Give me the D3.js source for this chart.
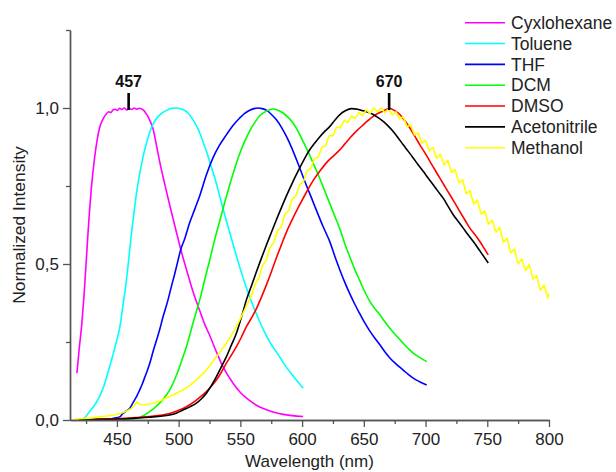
<!DOCTYPE html>
<html><head><meta charset="utf-8">
<script src="https://cdn.jsdelivr.net/npm/d3@7"></script>
<style>
body{margin:0;background:#fff}
svg{display:block}
text{font-family:"Liberation Sans",Arial,sans-serif}
</style>
</head><body>
<svg id="chart" width="616" height="472"></svg>
<script>
// ---- data (wavelength nm, normalized intensity) ----
const seriesNames = ["Cyxlohexane","Toluene","THF","DCM","DMSO","Acetonitrile","Methanol"];
const seriesColors = ["#ff00ff","#00ffff","#0000ff","#00ff00","#ff0000","#000000","#ffff00"];

const cyclohexane = [[417.6,0.150],[419.5,0.230],[421.5,0.305],[423.2,0.390],[425,0.500],[426.5,0.594],[428,0.680],[429.3,0.743],[430.6,0.795],[431.9,0.840],[434,0.898],[435.9,0.936],[438.5,0.963],[441.4,0.981],[443.5,0.988],[445,0.985],[446.7,0.993],[448.5,0.996],[450.5,0.992],[452.2,0.999],[454,0.995],[456,1.0],[458,0.994],[460,0.999],[462,0.995],[464,1.0],[466,0.996],[468,0.999],[470,0.997],[471.5,0.993],[473.2,0.985],[475.1,0.973],[477,0.957],[479.1,0.936],[481.8,0.885],[484.6,0.829],[488.5,0.760],[492.7,0.690],[497.5,0.613],[502.2,0.540],[507,0.473],[511.6,0.412],[517.1,0.350],[521,0.308],[525.2,0.271],[530.6,0.218],[536,0.170],[544.1,0.118],[550,0.088],[557.6,0.062],[564,0.045],[571.1,0.033],[578,0.024],[584.6,0.018],[592,0.014],[600.8,0.011]];

const toluene = [[419.7,0.002],[423.8,0.007],[427.8,0.027],[432,0.048],[435.9,0.075],[439.5,0.110],[442.6,0.150],[445.5,0.190],[448.1,0.228],[450.3,0.262],[452.2,0.294],[455,0.370],[457.6,0.444],[459.7,0.520],[461.7,0.594],[463.7,0.660],[465.7,0.722],[467.8,0.775],[469.8,0.818],[472.5,0.866],[475.1,0.904],[477.8,0.935],[480.6,0.958],[484,0.975],[487.3,0.986],[491,0.994],[494.5,0.999],[498.2,1.0],[502,0.997],[505,0.992],[507.6,0.984],[511,0.966],[513.5,0.950],[515.7,0.933],[519,0.900],[522.5,0.861],[525.8,0.820],[529.2,0.777],[533.3,0.717],[537.3,0.658],[541.4,0.600],[545.4,0.545],[549.5,0.490],[553.5,0.440],[557.6,0.394],[561.6,0.353],[565.7,0.315],[569.8,0.280],[573.8,0.250],[577.9,0.225],[582.7,0.197],[587.6,0.167],[592,0.145],[596,0.125],[600.8,0.102]];

const thf = [[427.8,0.0],[436,0.001],[444.1,0.003],[448,0.006],[452.2,0.010],[454.9,0.021],[457.6,0.029],[460.3,0.037],[462.3,0.050],[464.3,0.064],[466.4,0.079],[468.4,0.096],[470.4,0.114],[472.4,0.135],[474.5,0.157],[476.5,0.180],[479.7,0.225],[482.2,0.257],[484.6,0.289],[487.3,0.330],[491.4,0.385],[494,0.426],[496.8,0.468],[499.2,0.507],[501.6,0.545],[505,0.582],[508.9,0.632],[513,0.675],[517.1,0.719],[522.5,0.786],[527.8,0.840],[533,0.880],[538.7,0.914],[544,0.944],[549.5,0.968],[553.5,0.983],[557.6,0.993],[561,0.998],[564.3,1.0],[567.7,0.998],[571.1,0.993],[575,0.980],[579.2,0.962],[583.3,0.938],[587.4,0.908],[591.5,0.873],[595.5,0.834],[599.5,0.793],[603.6,0.751],[607.7,0.711],[611.7,0.671],[617,0.620],[622.5,0.571],[626.5,0.525],[630.6,0.481],[634.6,0.441],[638.7,0.404],[642.7,0.371],[646.8,0.340],[650.8,0.311],[654.9,0.285],[659,0.262],[663.0,0.241],[667,0.219],[671.1,0.199],[676.5,0.178],[681.9,0.160],[686,0.146],[690.0,0.134],[695.5,0.122],[700.9,0.112]];

const dcm = [[446.8,0.0],[456,0.002],[465.7,0.005],[471,0.013],[476.5,0.027],[480.5,0.039],[484.6,0.054],[488.7,0.073],[492.7,0.096],[496.8,0.130],[500.8,0.171],[503.5,0.202],[506.3,0.235],[509,0.272],[511.6,0.310],[514.4,0.348],[517.1,0.385],[521,0.448],[525.2,0.513],[529.2,0.578],[533.3,0.638],[537.3,0.697],[541.4,0.754],[545.4,0.806],[549.5,0.854],[553.5,0.893],[557.6,0.927],[561.6,0.953],[565.7,0.975],[571,0.990],[576.5,0.997],[580.5,0.993],[584.6,0.984],[588.7,0.970],[592.7,0.952],[596.8,0.925],[600.8,0.893],[604.9,0.860],[608.9,0.824],[613,0.787],[617.0,0.748],[621,0.708],[625.1,0.667],[630.6,0.612],[634.6,0.565],[638.7,0.522],[642.7,0.482],[646.8,0.446],[650.8,0.411],[654.9,0.380],[659,0.357],[663.0,0.337],[667,0.315],[671.1,0.294],[676.5,0.269],[681.9,0.246],[686,0.229],[690.0,0.214],[695.5,0.200],[700.9,0.187]];

const dmso = [[419.4,0.0],[435,0.003],[452.2,0.005],[465,0.008],[476.5,0.011],[485,0.015],[492.7,0.021],[498,0.028],[503.5,0.037],[509,0.049],[514.4,0.064],[518.5,0.077],[522.5,0.091],[526.5,0.108],[530.6,0.128],[534.6,0.153],[538.7,0.182],[542.7,0.208],[546.8,0.235],[550.9,0.266],[554.9,0.299],[559,0.327],[563.0,0.357],[567,0.393],[571.1,0.433],[575.2,0.476],[579.2,0.520],[583.3,0.562],[587.4,0.603],[592.7,0.648],[598.1,0.690],[603.5,0.730],[608.9,0.767],[614.4,0.798],[619.8,0.825],[625,0.845],[630.6,0.866],[634.6,0.885],[638.7,0.904],[644,0.926],[649.5,0.946],[653.5,0.960],[657.6,0.973],[661.6,0.983],[665.7,0.990],[668.5,0.996],[670.5,0.999],[674.9,0.992],[679.2,0.979],[683.3,0.959],[687.3,0.936],[691.4,0.909],[695.4,0.882],[699.5,0.856],[703.5,0.829],[707.6,0.802],[711.6,0.775],[715.7,0.748],[719.7,0.722],[723.8,0.695],[727.8,0.668],[731.9,0.641],[735.9,0.615],[740,0.594],[744.0,0.572],[747.5,0.550],[750.8,0.529]];

const acetonitrile = [[419.4,0.0],[435,0.002],[452.2,0.003],[465,0.006],[476.5,0.009],[485,0.012],[492.7,0.016],[498,0.022],[503.5,0.032],[509,0.042],[514.4,0.054],[518.5,0.068],[522.5,0.086],[526.5,0.110],[530.6,0.139],[534.6,0.170],[538.7,0.203],[542.7,0.240],[546.8,0.278],[550.9,0.330],[554.9,0.385],[559,0.430],[563.0,0.475],[567,0.518],[571.1,0.561],[575.2,0.602],[579.2,0.642],[583.3,0.681],[587.4,0.719],[592.7,0.765],[598.1,0.808],[602,0.838],[606.2,0.866],[610.3,0.888],[614.4,0.908],[618.5,0.926],[622.5,0.941],[626.5,0.961],[630.6,0.979],[635,0.991],[640.0,0.998],[645,0.996],[649.5,0.991],[653.5,0.986],[657.6,0.979],[661.6,0.969],[665.7,0.957],[669.8,0.942],[673.8,0.925],[677.9,0.904],[681.9,0.882],[686,0.861],[690.0,0.840],[694,0.818],[698.1,0.797],[702.2,0.775],[706.2,0.754],[710.3,0.732],[714.3,0.711],[718.4,0.684],[722.4,0.658],[726.5,0.636],[730.5,0.615],[734.6,0.593],[738.7,0.572],[744.7,0.538],[750.8,0.503]];

const methanol = [[415.6,0.003],[427.8,0.006],[438.6,0.011],[448.1,0.016],[452.5,0.021],[456.2,0.026],[459,0.031],[461.7,0.037],[464.3,0.048],[466,0.058],[467.2,0.053],[468.4,0.051],[470.5,0.049],[472.4,0.048],[474.5,0.050],[476.5,0.051],[480.5,0.055],[484.6,0.061],[488.7,0.068],[492.7,0.075],[498,0.085],[503.5,0.096],[509,0.111],[514.4,0.128],[518.5,0.144],[522.5,0.160],[526.5,0.181],[530.6,0.203],[534.6,0.224],[538.7,0.246],[542.7,0.272],[546.8,0.299],[550.9,0.332],[554.5,0.362],[559,0.399],[562,0.436],[565,0.455],[568,0.496],[571,0.512],[574,0.553],[577,0.568],[580,0.606],[583,0.618],[586,0.659],[589,0.671],[592,0.709],[595,0.718],[598,0.754],[601,0.763],[604,0.799],[607,0.806],[610,0.838],[613,0.842],[616,0.874],[619,0.879],[622,0.912],[625,0.911],[628,0.939],[631,0.937],[634,0.960],[637,0.954],[640,0.975],[643,0.966],[646,0.985],[649,0.976],[652,0.994],[655,0.983],[658,1.0],[661,0.988],[664,1.0],[667,0.985],[670,0.997],[673,0.978],[676,0.988],[679,0.965],[682,0.972],[685,0.940],[688,0.946],[691,0.914],[694,0.920],[697,0.888],[700,0.896],[703,0.862],[706,0.874],[709,0.838],[712,0.852],[715,0.818],[718,0.832],[721,0.794],[724,0.802],[727,0.760],[730,0.770],[733,0.725],[736,0.735],[739,0.692],[742,0.705],[745,0.660],[748,0.670],[751,0.628],[754,0.640],[757,0.602],[760,0.618],[763,0.570],[766,0.582],[769,0.535],[772,0.548],[775,0.500],[778,0.516],[781,0.478],[784,0.498],[787,0.452],[790,0.463],[793,0.416],[796,0.432],[799,0.392],[800,0.405]];

const xMajorTicks = [450,500,550,600,650,700,750,800];
const xMinorTicks = [425,475,525,575,625,675,725,775];
const yMajorTicks = [0,0.5,1.0];
const yTickLabels = ["0,0","0,5","1,0"];
const yMinorTicks = [0.25,0.75,1.25];
const peakLabels = ["457","670"];
const peakPositions = [459.5,670.5];
const xTitle = "Wavelength (nm)";
const yTitle = "Normalized Intensity";

// ---- drawing ----
const seriesData = [cyclohexane,toluene,thf,dcm,dmso,acetonitrile,methanol];
const svg = d3.select("#chart");
const x = d3.scaleLinear().domain([412,800]).range([70,549]);
const y = d3.scaleLinear().domain([0,1.25]).range([420,30]);
const axisColor = "#555";

const lineSmooth = d3.line().x(d=>x(d[0])).y(d=>y(d[1])).curve(d3.curveMonotoneX);
const lineRaw = d3.line().x(d=>x(d[0])).y(d=>y(d[1]));
seriesData.forEach((s,i)=>{
  svg.append("path").datum(s)
    .attr("d", i===6 ? lineRaw : lineSmooth)
    .attr("fill","none").attr("stroke",seriesColors[i])
    .attr("stroke-width",1.6).attr("stroke-linejoin","round");
});

function styleAxis(g){
  g.selectAll("path.domain").attr("stroke",axisColor).attr("stroke-width",1.4);
  g.selectAll(".tick line").attr("stroke",axisColor).attr("stroke-width",1.3);
  g.selectAll(".tick text").attr("fill","#222").style("font-size","17px");
}
const gx = svg.append("g").attr("transform","translate(0,420)")
  .call(d3.axisBottom(x).tickValues(xMajorTicks).tickSize(7).tickSizeOuter(0).tickFormat(d3.format("d")));
styleAxis(gx);
gx.selectAll(".tick text").attr("y",13);
const gxm = svg.append("g").attr("transform","translate(0,420)")
  .call(d3.axisBottom(x).tickValues(xMinorTicks).tickSize(4).tickSizeOuter(0).tickFormat(""));
styleAxis(gxm);

const gy = svg.append("g").attr("transform","translate(70,0)")
  .call(d3.axisLeft(y).tickValues(yMajorTicks).tickSize(7).tickSizeOuter(0).tickFormat((d,i)=>yTickLabels[i]));
styleAxis(gy);
gy.selectAll(".tick text").attr("x",-11);
const gym = svg.append("g").attr("transform","translate(70,0)")
  .call(d3.axisLeft(y).tickValues(yMinorTicks).tickSize(4).tickSizeOuter(0).tickFormat(""));
styleAxis(gym);

svg.append("text").attr("x",(x.range()[0]+x.range()[1])/2).attr("y",467)
  .attr("text-anchor","middle").attr("fill","#222").style("font-size","17px").text(xTitle);
svg.append("text").attr("transform",`translate(25,${(y.range()[0]+y.range()[1])/2}) rotate(-90)`)
  .attr("text-anchor","middle").attr("fill","#222").style("font-size","17.4px").text(yTitle);

peakPositions.forEach((p,i)=>{
  svg.append("line").attr("x1",x(p)).attr("x2",x(p))
    .attr("y1",y(1)-15).attr("y2",y(1)+2).attr("stroke","#000").attr("stroke-width",2.6);
  svg.append("text").attr("x",x(p)).attr("y",y(1)-21).attr("text-anchor","middle")
    .style("font-size","16px").style("font-weight","bold").attr("fill","#111").text(peakLabels[i]);
});

const legend = svg.append("g");
seriesNames.forEach((n,i)=>{
  const ly = 22.7 + i*20.83;
  legend.append("line").attr("x1",465).attr("x2",505).attr("y1",ly).attr("y2",ly)
    .attr("stroke",seriesColors[i]).attr("stroke-width",1.6);
  legend.append("text").attr("x",511).attr("y",ly).attr("dy","0.36em")
    .attr("fill","#222").style("font-size","17.5px").text(n);
});
</script>
</body></html>
